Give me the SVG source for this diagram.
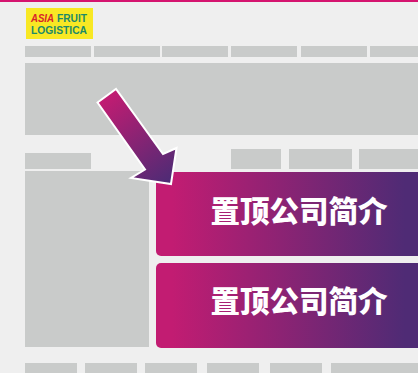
<svg xmlns="http://www.w3.org/2000/svg" width="418" height="373" viewBox="0 0 418 373">
<style>
.b{fill:#c9cbca}
.c{fill:url(#g)}
.t{font-family:"Noto Sans CJK SC","Noto Sans CJK JP",sans-serif;font-weight:900;font-size:29.500px;fill:#fff;text-anchor:middle}
.l{font-family:"Liberation Sans",Arial,sans-serif;font-weight:700;font-size:11.500px;fill:#1d8a68}
</style>
<defs>
<linearGradient id="g" gradientUnits="userSpaceOnUse" x1="156" y1="0" x2="418" y2="0"><stop offset="0.06" stop-color="#c21c72"/><stop offset="0.95" stop-color="#4f2b75"/></linearGradient>
<linearGradient id="a" gradientUnits="userSpaceOnUse" x1="107" y1="96" x2="170" y2="180"><stop offset="0" stop-color="#c21c72"/><stop offset="1" stop-color="#4f2b75"/></linearGradient>
</defs>
<rect width="418" height="373" fill="#efefef"/>
<rect width="418" height="2" fill="#d5146f"/>
<g id="logo"><rect x="26" y="8" width="67" height="31" fill="#f8e824"/>
<text x="31" y="22" class="l" style="fill:#d8232a;font-style:italic" textLength="23" lengthAdjust="spacingAndGlyphs">ASIA</text><text x="57" y="22" class="l" textLength="30" lengthAdjust="spacingAndGlyphs">FRUIT</text>
<text x="31" y="34" class="l" textLength="56" lengthAdjust="spacingAndGlyphs">LOGISTICA</text></g>
<g id="nav"><rect class="b" x="25" y="46" width="66" height="11"/><rect class="b" x="94" y="46" width="66" height="11"/><rect class="b" x="162" y="46" width="66" height="11"/><rect class="b" x="231" y="46" width="66" height="11"/><rect class="b" x="301" y="46" width="66" height="11"/><rect class="b" x="370" y="46" width="48" height="11"/></g>
<rect id="hero" class="b" x="25" y="63" width="393" height="72"/>
<g id="tabs"><rect class="b" x="25" y="153" width="66" height="16"/><rect class="b" x="231" y="149" width="50" height="20"/><rect class="b" x="289" y="149" width="63" height="20"/><rect class="b" x="359" y="149" width="59" height="20"/></g>
<rect id="side" class="b" x="25" y="171" width="124" height="176"/>
<g id="card1"><rect class="c" x="156" y="172" width="272" height="84" rx="5"/><text x="299" y="222" class="t">置顶公司简介</text></g>
<g id="card2"><rect class="c" x="156" y="263" width="272" height="85" rx="5"/><text x="299" y="312" class="t">置顶公司简介</text></g>
<g id="foot"><rect class="b" x="25" y="363" width="52" height="10"/><rect class="b" x="85" y="363" width="52" height="10"/><rect class="b" x="145" y="363" width="52" height="10"/><rect class="b" x="207" y="363" width="52" height="10"/><rect class="b" x="270" y="363" width="52" height="10"/><rect class="b" x="331" y="363" width="87" height="10"/></g>
<g id="connectors"><polygon points="97.500,102.500 116,89 163,154 176.500,148 171,184 131,178 145,169.500" fill="url(#a)" stroke="#fff" stroke-width="2"/></g>
</svg>
